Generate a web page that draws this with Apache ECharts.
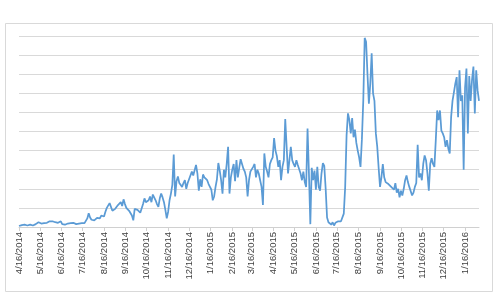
<!DOCTYPE html>
<html>
<head>
<meta charset="utf-8">
<script src="https://cdn.jsdelivr.net/npm/echarts@6/dist/echarts.min.js"></script>
<style>
  html, body { margin: 0; padding: 0; background: #fff; }
  #chart { width: 504px; height: 302px; }
</style>
</head>
<body>
<div id="chart"></div>
<script>
// daily series sampled every 2 days from 4/16/2014
const startDate = "4/16/2014";
const stepDays = 2;

const tickLabels = [
  "4/16/2014", "5/16/2014", "6/16/2014", "7/16/2014", "8/16/2014", "9/16/2014",
  "10/16/2014", "11/16/2014", "12/16/2014", "1/16/2015", "2/16/2015", "3/16/2015",
  "4/16/2015", "5/16/2015", "6/16/2015", "7/16/2015", "8/16/2015", "9/16/2015",
  "10/16/2015", "11/16/2015", "12/16/2015", "1/16/2016"
];

const values = [
  // apr-may 2014
  0.05, 0.08, 0.1, 0.08, 0.12, 0.1, 0.08, 0.1, 0.12, 0.1, 0.08, 0.12, 0.15, 0.12, 0.25,
  // may-jun
  0.3, 0.18, 0.15, 0.2, 0.18, 0.22, 0.28, 0.3, 0.25, 0.3, 0.28, 0.25, 0.3, 0.22, 0.28, 0.3,
  // jun-jul
  0.15, 0.25, 0.12, 0.22, 0.18, 0.15, 0.2, 0.12, 0.22, 0.18, 0.15, 0.2, 0.18, 0.15, 0.2,
  // jul-aug
  0.18, 0.2, 0.25, 0.45, 0.72, 0.5, 0.38, 0.42, 0.35, 0.4, 0.48, 0.38, 0.45, 0.6, 0.7, 0.55,
  // aug-sep
  0.8, 1.0, 1.05, 1.25, 1.15, 0.85, 0.75, 0.95, 1.0, 1.15, 1.25, 1.3, 1.1, 1.45, 1.2,
  // sep-oct
  1.0, 1.1, 0.85, 0.95, 0.6, 0.35, 0.95, 1.05, 0.9, 1.0, 0.75, 0.85, 1.2, 1.5, 1.3,
  // oct-nov
  1.3, 1.4, 1.6, 1.3, 1.7, 1.8, 1.4, 1.2, 1.05, 1.5, 1.75, 1.55, 1.3, 0.9, 0.45, 0.8,
  // nov-dec
  1.4, 1.75, 2.2, 3.8, 1.6, 2.4, 2.65, 2.3, 2.4, 2.1, 2.3, 2.45, 2.0, 2.3, 2.5,
  // dec-jan 2015
  2.6, 2.9, 2.7, 2.75, 3.25, 2.8, 1.9, 2.5, 2.1, 2.75, 2.6, 2.65, 2.45, 2.25, 2.1,
  // jan-feb
  1.95, 1.4, 1.6, 2.1, 2.5, 3.35, 2.95, 2.45, 1.75, 3.0, 2.6, 3.3, 4.2, 1.75, 2.6, 3.0,
  // feb-mar
  3.3, 2.4, 3.5, 2.6, 3.1, 3.55, 3.3, 3.05, 2.9, 2.6, 1.6, 2.45, 2.9, 2.8,
  // mar-apr
  3.15, 3.3, 2.6, 3.0, 2.8, 2.45, 2.1, 1.15, 3.85, 3.15, 2.9, 2.6, 3.3, 3.5, 3.65,
  // apr-may
  4.65, 4.0, 3.7, 3.15, 3.5, 2.45, 3.15, 3.5, 5.65, 4.2, 2.8, 3.5, 4.2, 3.5, 3.3,
  // may-jun
  3.15, 3.5, 3.25, 3.15, 2.8, 2.45, 2.9, 2.35, 2.1, 5.15, 2.8, 0.15, 3.1, 2.45, 2.95, 1.95,
  // jun-jul
  3.15, 2.1, 1.9, 2.8, 3.35, 3.2, 2.0, 0.5, 0.25, 0.2, 0.12, 0.25, 0.08, 0.22, 0.2,
  // jul-aug
  0.3, 0.25, 0.3, 0.35, 0.7, 2.1, 4.8, 5.95, 5.6, 4.9, 5.7, 4.7, 5.1, 4.4, 4.0,
  // aug-sep
  3.65, 3.15, 4.6, 6.65, 9.9, 9.7, 8.0, 6.45, 7.5, 9.1, 7.0, 6.6, 4.9, 4.2, 3.1, 2.1,
  // sep-oct
  2.6, 3.3, 2.6, 2.35, 2.45, 2.25, 2.3, 2.1, 2.15, 1.95, 2.3, 1.8, 2.0, 1.55, 1.9,
  // oct-nov
  1.65, 2.0, 2.45, 2.7, 2.35, 2.1, 2.2, 1.65, 1.8, 2.1, 2.3, 4.3, 2.6, 2.8, 2.45,
  // nov-dec
  3.3, 3.75, 3.5, 2.8, 1.9, 3.3, 3.6, 3.3, 3.15, 4.55, 6.1, 5.6, 6.1, 5.05, 4.9,
  // dec-jan 2016
  4.7, 4.2, 4.55, 4.1, 3.85, 5.75, 6.6, 7.05, 7.5, 7.85, 5.75, 8.2, 6.6, 6.9, 3.0, 7.3,
  // jan-feb
  8.3, 4.9, 7.9, 6.6, 7.7, 8.4, 5.95, 8.2, 7.15, 6.6
];

// day number (UTC) for an m/d/yyyy string
function dayNum(s) {
  const p = s.split("/").map(Number);
  return Math.round(Date.UTC(p[2], p[0] - 1, p[1]) / 86400000);
}

const day0 = dayNum(startDate);
const tickDays = tickLabels.map(s => dayNum(s) - day0);
const labelByDay = {};
tickLabels.forEach((s, i) => { labelByDay[tickDays[i]] = s; });

const seriesData = values.map((v, i) => [i * stepDays, v]);

const myChart = echarts.init(document.getElementById("chart"));

const option = {
  animation: false,
  backgroundColor: "#fff",
  graphic: [
    {
      type: "rect",
      shape: { x: 5.5, y: 23.5, width: 487, height: 268 },
      style: { fill: "none", stroke: "#d9d9d9", lineWidth: 1 },
      silent: true
    }
  ],
  grid: {
    left: 19,
    right: 25,
    top: 36,
    bottom: 75
  },
  xAxis: {
    type: "value",
    min: 0,
    max: (values.length - 1) * stepDays,
    axisLine: {
      onZero: false,
      lineStyle: { color: "#d0d0d0", width: 1 }
    },
    axisTick: {
      show: true,
      length: 4,
      customValues: tickDays,
      lineStyle: { color: "#d0d0d0" }
    },
    axisLabel: {
      customValues: tickDays,
      rotate: 90,
      margin: 5,
      color: "#404040",
      fontSize: 9.5,
      fontFamily: "Liberation Sans",
      formatter: v => labelByDay[v] || ""
    },
    splitLine: { show: false }
  },
  yAxis: {
    type: "value",
    min: 0,
    max: 10,
    interval: 1,
    axisLine: { show: false },
    axisTick: { show: false },
    axisLabel: { show: false },
    splitLine: {
      lineStyle: { color: "#d9d9d9", width: 1 }
    }
  },
  series: [
    {
      type: "line",
      data: seriesData,
      showSymbol: false,
      smooth: false,
      lineStyle: {
        color: "#5b9bd5",
        width: 1.75
      }
    }
  ]
};

myChart.setOption(option);
</script>
</body>
</html>
